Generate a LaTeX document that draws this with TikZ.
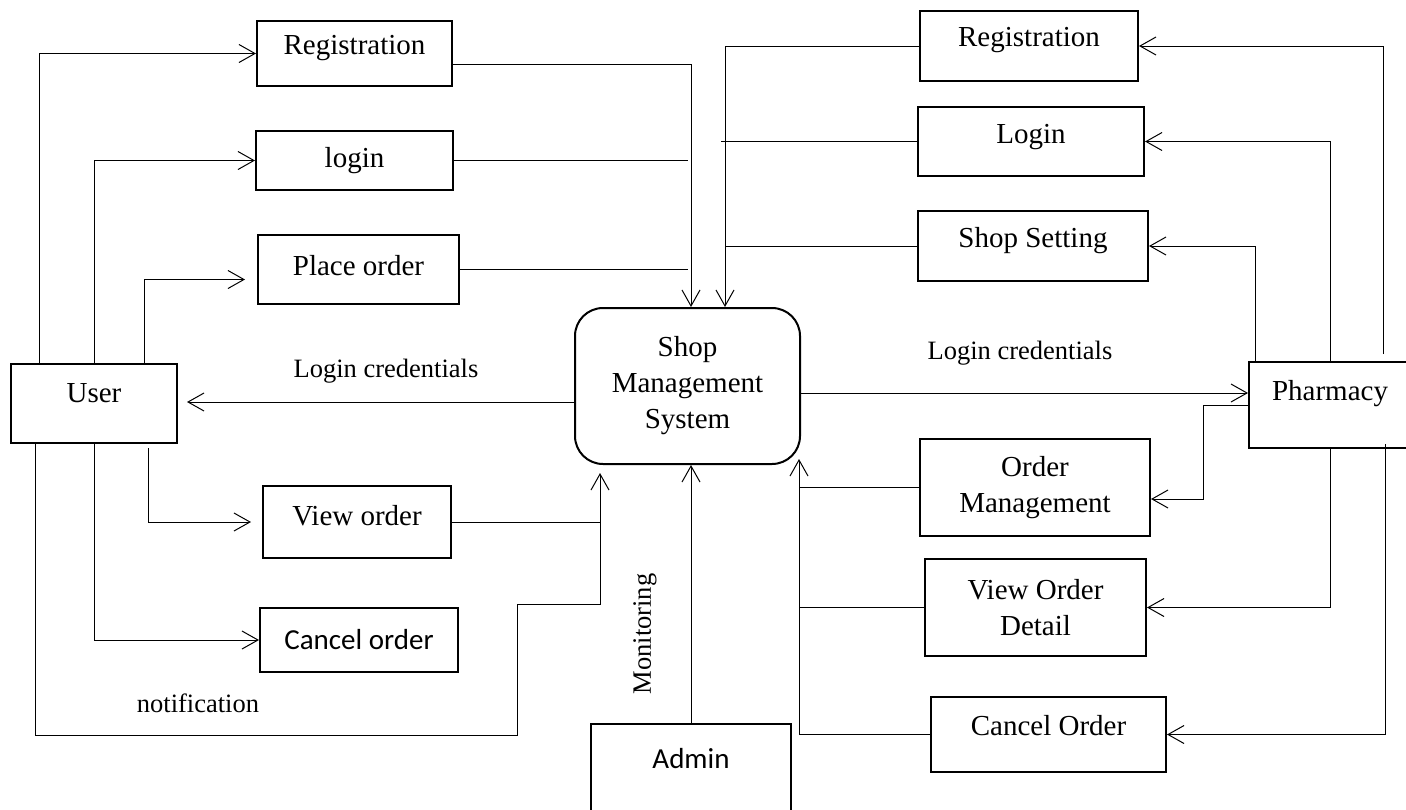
\documentclass[tikz,border=0pt]{standalone}
\usepackage{fontspec}
\setmainfont{Liberation Serif}
\newfontfamily\calibri{Carlito}
\usetikzlibrary{arrows.meta}

\tikzset{
  proc/.style={draw, line width=1pt, align=center, inner sep=2pt,
    font=\fontsize{14.5}{18}\selectfont},
  sansproc/.style={proc, font=\calibri\fontsize{14.5}{18}\selectfont},
  flow/.style={-{Straight Barb[length=8pt,width=9pt]}, line width=0.5pt},
  link/.style={line width=0.5pt},
  lbl/.style={font=\fontsize{13.25}{16}\selectfont},
}

\begin{document}
\begin{tikzpicture}[x=0.5pt,y=-0.5pt]
  \clip (0,0) rectangle (1406,809);
  % user side
  \node[proc, minimum width=97.5pt, minimum height=32.5pt, text depth=8.5pt] (regL) at (354.5,53.5) {Registration};
  \node[proc, minimum width=98.5pt, minimum height=29.5pt] (loginL) at (354.5,160.5) {login};
  \node[proc, minimum width=100.5pt, minimum height=34.5pt, text depth=4.5pt] (placeL) at (358.5,269.5) {Place order};
  \node[proc, minimum width=83pt, minimum height=39.5pt, text depth=10.5pt] (user) at (94,403.5) {User};
  \node[proc, minimum width=94pt, minimum height=36pt, text depth=7pt] (viewL) at (357,522) {View order};
  \node[sansproc, minimum width=99pt, minimum height=32pt] (cancelL) at (359,640) {Cancel order};
  % system and admin
  \node[proc, rounded corners=14pt, minimum width=112.5pt, minimum height=78pt] (sms) at (687.5,386) {Shop\\Management\\System};
  \node[sansproc, minimum width=100pt, minimum height=58pt, text depth=24pt] (admin) at (691,782) {Admin};
  % pharmacy side
  \node[proc, minimum width=109pt, minimum height=35pt, text depth=9pt] (regR) at (1029,46) {Registration};
  \node[proc, minimum width=113pt, minimum height=34.5pt, text depth=7.5pt] (loginR) at (1031,141.5) {Login};
  \node[proc, minimum width=115pt, minimum height=35pt, text depth=9pt] (shopset) at (1033,246) {Shop Setting};
  \node[proc, minimum width=81pt, minimum height=43pt, text depth=15pt] (pharm) at (1330,405) {Pharmacy};
  \node[proc, minimum width=115pt, minimum height=48.5pt] (ordm) at (1035,487.5) {Order\\Management};
  \node[proc, minimum width=110.5pt, minimum height=48.5pt] (vod) at (1035.5,607.5) {View Order\\Detail};
  \node[proc, minimum width=117.5pt, minimum height=37.5pt, text depth=9.5pt] (cancelR) at (1048.5,734.5) {Cancel Order};
  % labels
  \node[lbl] (credL) at (386,371) {Login credentials};
  \node[lbl] (credR) at (1020,353) {Login credentials};
  \node[lbl] (notif) at (198,703) {notification};
  \node[lbl, rotate=90] (monit) at (645,634) {Monitoring};

  % user flows
  \draw[flow] ([xshift=14.5pt]user.north west) |- (regL.west);
  \draw[flow] (user.north) |- (loginL.west);
  \draw[flow, shorten >=6pt] ([xshift=25pt]user.north) |- ([yshift=-5pt]placeL.west);
  \draw[flow] ([xshift=27pt,yshift=-2pt]user.south) |- ([xshift=-5.5pt]viewL.west);
  \draw[flow] (user.south) |- (cancelL.west);
  \draw[flow] ([yshift=-5.25pt]regL.east) -| ([xshift=1.75pt]sms.north);
  \draw[link] (loginL.east) -- (loginL.east -| sms.north);
  \draw[link] (placeL.east) -- (placeL.east -| sms.north);
  \coordinate (n1) at (517,735);
  \coordinate (n2) at (600,604);
  \draw[flow, shorten >=4pt] ([xshift=12.5pt]user.south west) |- (n1) |- (n2) -- (n2 |- sms.south);
  \draw[link] (viewL.east) -- (viewL.east -| n2);
  \coordinate (s1) at ([yshift=-8pt]sms.west);
  \draw[flow, shorten >=4.5pt] (s1) -- (s1 -| user.east);
  \draw[flow] (admin.north) -- (admin.north |- sms.south);

  % pharmacy flows
  \coordinate (r1) at ([xshift=18.75pt]sms.north);
  \draw[flow] (regR.west) -| (r1);
  \draw[link] (loginR.west) -- ([xshift=-2pt]loginR.west -| r1);
  \draw[link] (shopset.west) -- (shopset.west -| r1);
  \draw[flow] ([xshift=67.5pt,yshift=3.5pt]pharm.north west) |- (regR.east);
  \draw[flow] ([xshift=41pt]pharm.north west) |- (loginR.east);
  \draw[flow] ([xshift=3.5pt]pharm.north west) |- (shopset.east);
  \coordinate (s2) at ([yshift=-3.5pt]sms.east);
  \draw[flow] (s2) -- (s2 -| pharm.west);
  \draw[flow] (pharm.west) -| ([xshift=26pt,yshift=-5.75pt]ordm.east) -- ([yshift=-5.75pt]ordm.east);
  \draw[flow] ([xshift=41pt]pharm.south west) |- (vod.east);
  \draw[flow] ([xshift=68.5pt,yshift=2.5pt]pharm.south west) |- (cancelR.east);
  \coordinate (r2) at ([xshift=-1pt,yshift=3pt]sms.south east);
  \draw[flow] (cancelR.west) -| (r2);
  \draw[link] (ordm.west) -- (ordm.west -| r2);
  \draw[link] (vod.west) -- (vod.west -| r2);
\end{tikzpicture}
\end{document}
